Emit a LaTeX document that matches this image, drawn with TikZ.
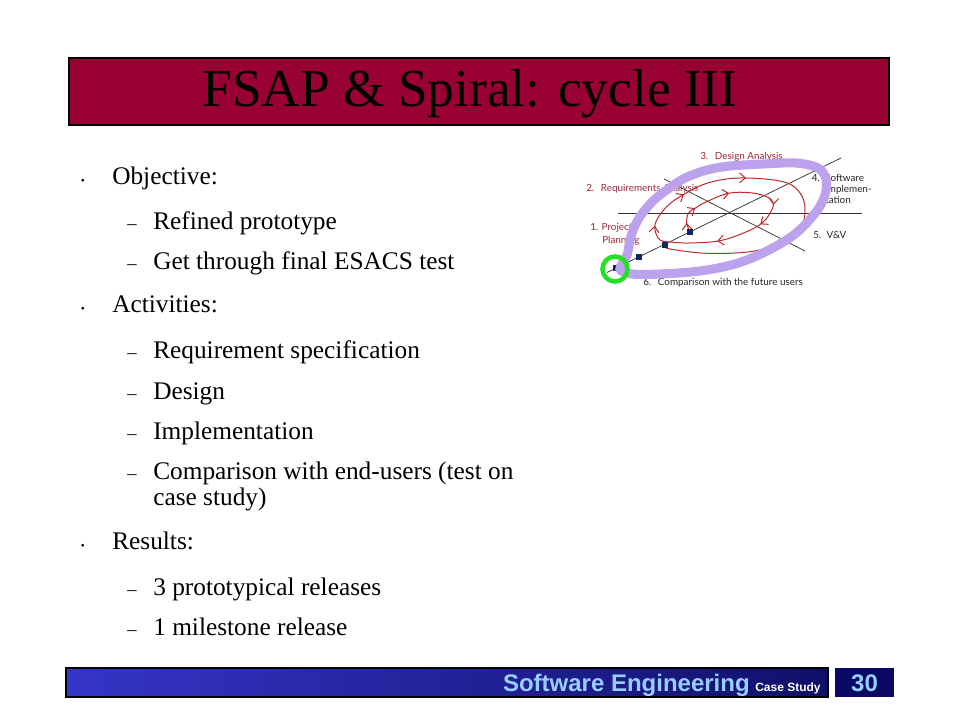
\documentclass[tikz,border=0pt]{standalone}
\usepackage{fontspec}
\setmainfont{Liberation Serif}
\newfontfamily\arialfont{Liberation Sans}
\newfontfamily\labelfont{Lato}
\usetikzlibrary{decorations.markings,arrows.meta}
\definecolor{titlered}{HTML}{990033}
\definecolor{barleft}{HTML}{3535C8}
\definecolor{barright}{HTML}{10106A}
\definecolor{navybox}{HTML}{0A0A64}
\definecolor{footblue}{HTML}{99CCFF}
\definecolor{spired}{HTML}{C0282D}
\definecolor{labred}{HTML}{9E2A3A}
\definecolor{sqnavy}{HTML}{0D2A5C}
\definecolor{lavender}{HTML}{BCA2EC}
\definecolor{ringgreen}{HTML}{22E022}
\tikzset{spiraltip/.tip={Straight Barb[length=4.4pt,width=7.4pt]}}
\begin{document}
\begin{tikzpicture}[x=0.75pt,y=-0.75pt,
  mainitem/.style={anchor=base west, inner sep=0pt, font=\fontsize{19}{22}\selectfont},
  subitem/.style={anchor=base west, inner sep=0pt, font=\fontsize{19}{22}\selectfont},
  bulletmark/.style={anchor=base west, inner sep=0pt, font=\fontsize{8.5}{9}\selectfont},
  dashmark/.style={anchor=base west, inner sep=0pt, font=\fontsize{14}{16}\selectfont},
  axisline/.style={draw=black!80, line width=0.55pt},
  sq/.style={fill=sqnavy, minimum size=4.6pt, inner sep=0pt, outer sep=0pt},
  lab/.style={anchor=base west, inner sep=0pt, font=\labelfont\fontsize{7.4}{8}\selectfont, text=labred},
  spiralpath/.style={draw=spired, line width=0.75pt}
]
\useasboundingbox (0,0) rectangle (960,720);
\fill[white] (0,0) rectangle (960,720);

% ---------- title bar ----------
\draw[fill=titlered, draw=black, line width=0.8pt] (69,58) rectangle (889,125);
\node[anchor=base, inner sep=0pt, font=\fontsize{40}{44}\selectfont] (title) at (470,107) {FSAP \& Spiral: cycle III};

% ---------- bullet list ----------
\node[bulletmark] (b1) at (80.5,184.3) {•};
\node[mainitem] (objective) at (112,184.3) {Objective:};
\node[dashmark] (d1) at (127,229.3) {–};
\node[subitem] (refined) at (153,229.3) {Refined prototype};
\node[dashmark] (d2) at (127,269.3) {–};
\node[subitem] (esacs) at (153,269.3) {Get through final ESACS test};

\node[bulletmark] (b2) at (80.5,312.3) {•};
\node[mainitem] (activities) at (112,312.3) {Activities:};
\node[dashmark] (d3) at (127,358.3) {–};
\node[subitem] (reqspec) at (153,358.3) {Requirement specification};
\node[dashmark] (d4) at (127,399) {–};
\node[subitem] (design) at (153,399) {Design};
\node[dashmark] (d5) at (127,439) {–};
\node[subitem] (impl) at (153,439) {Implementation};
\node[dashmark] (d6) at (127,479) {–};
\node[subitem] (comp1) at (153,479) {Comparison with end-users (test on};
\node[subitem] (comp2) at (153,505.7) {case study)};

\node[bulletmark] (b3) at (80.5,549) {•};
\node[mainitem] (results) at (112,549) {Results:};
\node[dashmark] (d7) at (127,595.7) {–};
\node[subitem] (proto) at (153,595.7) {3 prototypical releases};
\node[dashmark] (d8) at (127,635) {–};
\node[subitem] (mile) at (153,635) {1 milestone release};

% ---------- spiral figure ----------
\coordinate (hA) at (618,213);
\coordinate (hB) at (862,213);
\coordinate (rA) at (607,272.5);
\coordinate (rB) at (841,158);
\coordinate (fA) at (664,179);
\coordinate (fB) at (805,251);
\draw[axisline] (hA) -- (hB);
\draw[axisline] (rA) -- (rB);
\draw[axisline] (fA) -- (fB);

\draw[spiralpath, postaction={decorate}, decoration={markings,
    mark=at position 7pt with {\arrow[spired]{spiraltip}},
    mark=at position 21pt with {\arrow[spired]{spiraltip}},
    mark=at position 49pt with {\arrow[spired]{spiraltip}},
    mark=at position 86pt with {\arrow[spired]{spiraltip}},
    mark=at position 104pt with {\arrow[spired]{spiraltip}},
    mark=at position 139pt with {\arrow[spired]{spiraltip}},
    mark=at position 194pt with {\arrow[spired]{spiraltip}},
    mark=at position 227pt with {\arrow[spired]{spiraltip}},
    mark=at position 276pt with {\arrow[spired]{spiraltip}}}]
  plot[smooth, tension=0.6] coordinates {
    (690,231.7) (686.7,223.3) (688.3,213.3) (695,208.3) (706.7,201.7)
    (728.3,193.3) (750,192.7) (766.7,196.7) (773.3,203.3) (770,213.3)
    (761.7,223.3) (746.7,231.7) (720,240.7) (690,243) (670,242)
    (660,240) (655,230) (656.7,220) (666.7,206.7) (680,196.7)
    (706.7,183.3) (740,178) (783,181.7) (800,193) (805,210)
    (800,230) (783,243) (750,251.7) (706.7,253.3) (670,249) (665,246)};

\node[sq] (s1) at (616,268) {};
\node[sq] (s2) at (639,257) {};
\node[sq] (s3) at (665,245) {};
\node[sq] (s4) at (690,232) {};

\node[lab] (l3) at (700,160) {3.\hspace{5pt}Design Analysis};
\node[lab] (l2) at (586,191.7) {2.\hspace{5pt}Requirements Analysis};
\node[lab] (l1) at (590,230.7) {1. Project};
\node[lab] (l1b) at (602,244) {Planning};
\node[lab, text=black!85] (l4) at (811.5,181.7) {4.};
\node[lab, text=black!85] (l4a) at (825,181.7) {Software};
\node[lab, text=black!85] (l4b) at (825,192.7) {Implemen-};
\node[lab, text=black!85] (l4c) at (825,203.3) {tation};
\node[lab, text=black!85] (l5) at (813,238.5) {5.\hspace{4pt}V\&V};
\node[lab, text=black!85] (l6) at (643,285.7) {6.\hspace{5pt}Comparison with the future users};

% highlight ring
\draw[draw=lavender, line width=6.8pt] plot[smooth cycle, tension=0.55] coordinates {
  (620,269) (627,255) (630,240) (634,228) (641,215) (654,200) (668,189)
  (685,178) (707,170) (730,166) (763,164) (796,163) (818,168) (826,179)
  (825,195) (816,212) (795,234) (765,252) (735,264) (700,271) (660,274) (632,274)};
\draw[draw=ringgreen, line width=3.4pt] (615,269) circle[radius=12.5];

% ---------- footer ----------
\shade[left color=barleft, right color=barright] (66,668) rectangle (828,697);
\draw[black, line width=0.8pt] (66,668) rectangle (828,697);
\fill[navybox] (835,668) rectangle (894,697);
\node[anchor=base east, inner sep=0pt, font=\arialfont\bfseries\fontsize{18}{20}\selectfont, text=footblue] (se) at (750,691) {Software Engineering};
\node[anchor=base west, inner sep=0pt, font=\arialfont\bfseries\fontsize{9}{10}\selectfont, text=white] (cs) at (755,691) {Case Study};
\node[anchor=base, inner sep=0pt, font=\arialfont\bfseries\fontsize{18}{20}\selectfont, text=footblue] (num) at (864.5,691) {30};
\end{tikzpicture}
\end{document}
